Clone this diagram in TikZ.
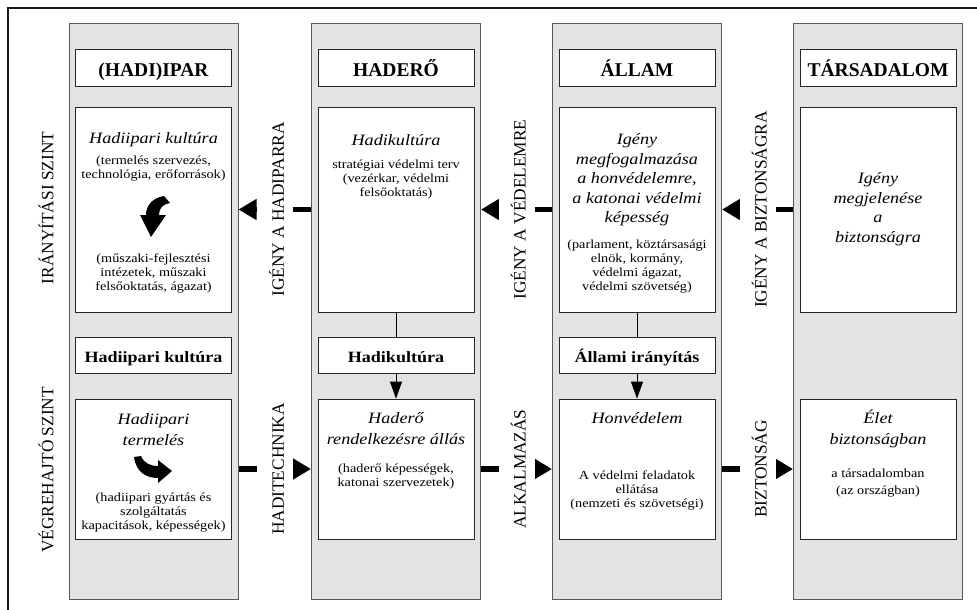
\documentclass[tikz,border=0pt]{standalone}
\usepackage{fontspec}
\setmainfont{Liberation Serif}
\newfontfamily\widefont{Liberation Serif}[FakeStretch=1.15]
\usetikzlibrary{arrows.meta}

\tikzset{
  colbox/.style={draw=black!65, fill=black!11, line width=1pt, minimum width=169pt, minimum height=575pt, inner sep=0pt},
  inbox/.style={draw=black!85, fill=white, line width=0.8pt, minimum width=156pt, inner sep=0pt},
  headbox/.style={inbox, minimum height=37pt, font=\bfseries\fontsize{19.5}{22}\selectfont, text height=18pt, text depth=0pt},
  midbox/.style={inbox, minimum height=36pt, font=\widefont\bfseries\fontsize{15.7}{18}\selectfont, text height=15pt, text depth=0pt},
  upbox/.style={inbox, minimum height=205pt},
  lowbox/.style={inbox, minimum height=140pt},
  boxtitle/.style={font=\widefont\itshape\fontsize{15.8}{19.5}\selectfont, align=center, inner sep=0pt},
  boxtext/.style={font=\widefont\fontsize{12.4}{14}\selectfont, align=center, inner sep=0pt},
  sidetext/.style={rotate=90, font=\fontsize{17.3}{18}\selectfont, inner sep=0pt},
  flowlabel/.style={sidetext, fill=white, text height=18pt, text depth=0pt, inner ysep=9pt, inner xsep=2pt},
  flow/.style={line width=5.5pt, -{Triangle[length=18pt,width=20pt]}},
  link/.style={line width=0.8pt},
}

\begin{document}
\begin{tikzpicture}[x=1pt, y=-1pt]
\useasboundingbox (0,0) rectangle (977,610);
% frame (cut off right and below)
\draw[line width=1.8pt, black!90] (977,8) -- (8,8) -- (8,610);

% Columns
\node[colbox] (c1) at (153.5,311.5) {};
\node[colbox] (c2) at (396,311.5) {};
\node[colbox] (c3) at (637,311.5) {};
\node[colbox] (c4) at (878,311.5) {};

% Headers
\node[headbox] (h1) at (153.5,67.5) {(HADI)IPAR};
\node[headbox] (h2) at (396,67.5) {HADERŐ};
\node[headbox] (h3) at (637,67.5) {ÁLLAM};
\node[headbox] (h4) at (878,67.5) {TÁRSADALOM};

% Upper boxes
\node[upbox] (u1) at (153.5,209.5) {};
\node[upbox] (u2) at (396,209.5) {};
\node[upbox] (u3) at (637,209.5) {};
\node[upbox] (u4) at (878,209.5) {};

% Middle boxes
\node[midbox] (m1) at (153.5,355) {Hadiipari kultúra};
\node[midbox] (m2) at (396,355) {Hadikultúra};
\node[midbox] (m3) at (637,355) {Állami irányítás};

% Lower boxes
\node[lowbox] (l1) at (153.5,469) {};
\node[lowbox] (l2) at (396,469) {};
\node[lowbox] (l3) at (637,469) {};
\node[lowbox] (l4) at (878,469) {};

% Texts, upper row
\node[boxtitle] (u1t) at (153.5,140) {Hadiipari kultúra};
\node[boxtext] (u1a) at (153.5,168.5) {(termelés szervezés,\\technológia, erőforrások)};
\node[boxtext] (u1b) at (153.5,273.5) {(műszaki-fejlesztési\\intézetek, műszaki\\felsőoktatás, ágazat)};
\node[boxtitle] (u2t) at (396,140) {Hadikultúra};
\node[boxtext] (u2a) at (396,180) {stratégiai védelmi terv\\(vezérkar, védelmi\\felsőoktatás)};
\node[boxtitle] (u3t) at (637,180) {Igény\\megfogalmazása\\a honvédelemre,\\a katonai védelmi\\képesség};
\node[boxtext] (u3a) at (637,267) {(parlament, köztársasági\\elnök, kormány,\\védelmi ágazat,\\védelmi szövetség)};
\node[boxtitle] (u4t) at (878,209) {Igény\\megjelenése\\a\\biztonságra};

% Texts, lower row
\node[boxtitle] (l1t) at (153.5,429.5) {Hadiipari\\[1.5pt]termelés};
\node[boxtext] (l1a) at (153.5,512.5) {(hadiipari gyártás és\\szolgáltatás\\kapacitások, képességek)};
\node[boxtitle] (l2t) at (396,428.5) {Haderő\\[1.5pt]rendelkezésre állás};
\node[boxtext] (l2a) at (396,476.5) {(haderő képességek,\\katonai szervezetek)};
\node[boxtitle] (l3t) at (637,418) {Honvédelem};
\node[boxtext] (l3a) at (637,490) {A védelmi feladatok\\ellátása\\(nemzeti és szövetségi)};
\node[boxtitle] (l4t) at (878,429) {Élet\\[1.5pt]biztonságban};
\node[boxtext] (l4a) at (878,483) {a társadalomban\\[2.5pt](az országban)};

% curved arrows in the first column
\fill (164,196) .. controls (152,198) and (146,206) .. (146,215) -- (140,215) -- (151,237) -- (166,215) -- (159,215) .. controls (159,208) and (163,204) .. (170,203) -- cycle;
\fill (134,457) .. controls (136,472) and (146,478) .. (158,478) -- (158,483) -- (172,471) -- (158,460) -- (158,466) .. controls (150,466) and (144,463) .. (141,456) -- cycle;

% Levels
\node[sidetext] (s1) at (46,208) {IRÁNYÍTÁSI SZINT};
\node[sidetext] (s2) at (46,470) {VÉGREHAJTÓ SZINT};

% Inside the columns
\draw[link] (u2) -- (m2);
\draw[link, -{Triangle[length=17pt,width=12pt]}] (m2) -- (l2);
\draw[link] (u3) -- (m3);
\draw[link, -{Triangle[length=17pt,width=12pt]}] (m3) -- (l3);

% Between the columns
\draw[flow] (u2.west -| c2.west) -- node[flowlabel] (f1) {IGÉNY A HADIPARRA} (u1.east -| c1.east);
\draw[flow] (u3.west -| c3.west) -- node[flowlabel] (f2) {IGÉNY A VÉDELEMRE} (u2.east -| c2.east);
\draw[flow] (u4.west -| c4.west) -- node[flowlabel] (f3) {IGÉNY A BIZTONSÁGRA} (u3.east -| c3.east);
\draw[flow] (l1.east -| c1.east) -- node[flowlabel] (f4) {HADITECHNIKA} (l2.west -| c2.west);
\draw[flow] (l2.east -| c2.east) -- node[flowlabel] (f5) {ALKALMAZÁS} (l3.west -| c3.west);
\draw[flow] (l3.east -| c3.east) -- node[flowlabel] (f6) {BIZTONSÁG} (l4.west -| c4.west);
\end{tikzpicture}
\end{document}
